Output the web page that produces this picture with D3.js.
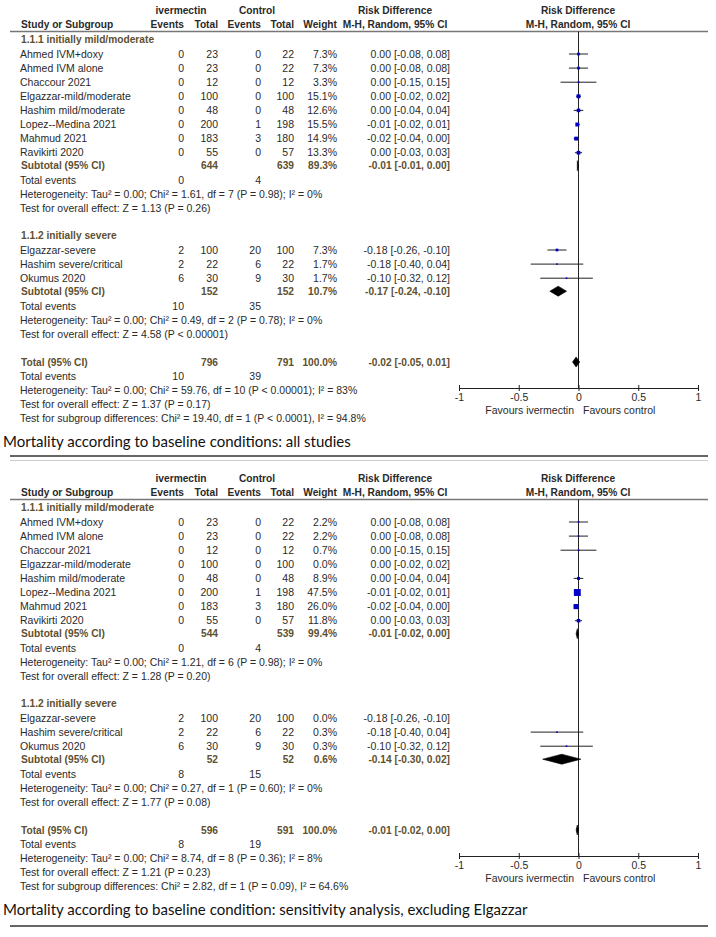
<!DOCTYPE html>
<html>
<head>
<meta charset="utf-8">
<script src="https://cdn.jsdelivr.net/npm/d3@7"></script>
<style>
  body { margin: 0; background: #fff; }
  svg text { font-family: "Liberation Sans", Arial, sans-serif; }
  .reg { font-size: 10.5px; fill: #2a2a2a; }
  .hdr { font-size: 10.2px; font-weight: bold; fill: #2a2a2a; }
  .sub { font-size: 10.2px; font-weight: bold; fill: #5e5030; }
  .caption { font-family: Lato, "Open Sans", sans-serif; font-size: 15px; fill: #111; }
</style>
</head>
<body>
<div id="chart"></div>
<script>
// Page size
var width  = 716;
var height = 937;

// 1.1.1 initially mild/moderate
var mildStudies   = ["Ahmed IVM+doxy", "Ahmed IVM alone", "Chaccour 2021", "Elgazzar-mild/moderate",
                     "Hashim mild/moderate", "Lopez--Medina 2021", "Mahmud 2021", "Ravikirti 2020"];
var mildIvmEvents = [0, 0, 0, 0, 0, 0, 0, 0];
var mildIvmTotal  = [23, 23, 12, 100, 48, 200, 183, 55];
var mildCtlEvents = [0, 0, 0, 0, 0, 1, 3, 0];
var mildCtlTotal  = [22, 22, 12, 100, 48, 198, 180, 57];
var mildRD        = [0.00, 0.00, 0.00, 0.00, 0.00, -0.01, -0.02, 0.00];
var mildLow       = [-0.08, -0.08, -0.15, -0.02, -0.04, -0.02, -0.04, -0.03];
var mildHigh      = [0.08, 0.08, 0.15, 0.02, 0.04, 0.01, 0.00, 0.03];
var mildWeightAll = [7.3, 7.3, 3.3, 15.1, 12.6, 15.5, 14.9, 13.3];
var mildWeightSens = [2.2, 2.2, 0.7, 0.0, 8.9, 47.5, 26.0, 11.8];

// 1.1.2 initially severe
var severeStudies   = ["Elgazzar-severe", "Hashim severe/critical", "Okumus 2020"];
var severeIvmEvents = [2, 2, 6];
var severeIvmTotal  = [100, 22, 30];
var severeCtlEvents = [20, 6, 9];
var severeCtlTotal  = [100, 22, 30];
var severeRD        = [-0.18, -0.18, -0.10];
var severeLow       = [-0.26, -0.40, -0.32];
var severeHigh      = [-0.10, 0.04, 0.12];
var severeWeightAll  = [7.3, 1.7, 1.7];
var severeWeightSens = [0.0, 0.3, 0.3];

// Pooled results: [ivm total, ctl total, weight, rd, low, high, ivm events, ctl events]
var pooledAll  = { mild: [644, 639, 89.3, -0.01, -0.01, 0.00, 0, 4],
                   severe: [152, 152, 10.7, -0.17, -0.24, -0.10, 10, 35],
                   total: [796, 791, 100.0, -0.02, -0.05, 0.01, 10, 39] };
var pooledSens = { mild: [544, 539, 99.4, -0.01, -0.02, 0.00, 0, 4],
                   severe: [52, 52, 0.6, -0.14, -0.30, 0.02, 8, 15],
                   total: [596, 591, 100.0, -0.01, -0.02, 0.00, 8, 19] };

var statsAll = [
  "Heterogeneity: Tau\u00b2 = 0.00; Chi\u00b2 = 1.61, df = 7 (P = 0.98); I\u00b2 = 0%",
  "Test for overall effect: Z = 1.13 (P = 0.26)",
  "Heterogeneity: Tau\u00b2 = 0.00; Chi\u00b2 = 0.49, df = 2 (P = 0.78); I\u00b2 = 0%",
  "Test for overall effect: Z = 4.58 (P < 0.00001)",
  "Heterogeneity: Tau\u00b2 = 0.00; Chi\u00b2 = 59.76, df = 10 (P < 0.00001); I\u00b2 = 83%",
  "Test for overall effect: Z = 1.37 (P = 0.17)",
  "Test for subgroup differences: Chi\u00b2 = 19.40, df = 1 (P < 0.0001), I\u00b2 = 94.8%"
];
var statsSens = [
  "Heterogeneity: Tau\u00b2 = 0.00; Chi\u00b2 = 1.21, df = 6 (P = 0.98); I\u00b2 = 0%",
  "Test for overall effect: Z = 1.28 (P = 0.20)",
  "Heterogeneity: Tau\u00b2 = 0.00; Chi\u00b2 = 0.27, df = 1 (P = 0.60); I\u00b2 = 0%",
  "Test for overall effect: Z = 1.77 (P = 0.08)",
  "Heterogeneity: Tau\u00b2 = 0.00; Chi\u00b2 = 8.74, df = 8 (P = 0.36); I\u00b2 = 8%",
  "Test for overall effect: Z = 1.21 (P = 0.23)",
  "Test for subgroup differences: Chi\u00b2 = 2.82, df = 1 (P = 0.09), I\u00b2 = 64.6%"
];

var captions = ["Mortality according to baseline conditions: all studies",
                "Mortality according to baseline condition: sensitivity analysis, excluding Elgazzar"];

var axisTicks = [-1, -0.5, 0, 0.5, 1];

var svg = d3.select("#chart").append("svg")
    .attr("width", width)
    .attr("height", height);

// Risk difference scale for the plot column
var x = d3.scaleLinear().domain([-1, 1]).range([459, 698]);
var f2 = d3.format(".2f");
var f1 = d3.format(".1f");

// Column right edges
var col = { ivmEv: 184, ivmTot: 218, ctlEv: 261, ctlTot: 294, weight: 337, rd: 450 };

function ciText(rd, lo, hi) {
    return f2(rd).replace("\u2212", "-") + " [" + f2(lo).replace("\u2212", "-") + ", " + f2(hi).replace("\u2212", "-") + "]";
}

function txt(g, cls, xx, yy, s, anchor) {
    return g.append("text")
        .attr("class", cls)
        .attr("x", xx)
        .attr("y", yy)
        .attr("dy", "0.35em")
        .attr("text-anchor", anchor || "start")
        .text(s);
}

function drawPanel(offset, weightsMild, weightsSevere, pooled, stats, caption) {
    var g = svg.append("g").attr("transform", "translate(0," + offset + ")");

    // Column headers
    txt(g, "hdr", 181, 10, "ivermectin", "middle");
    txt(g, "hdr", 257, 10, "Control", "middle");
    txt(g, "hdr", 395, 10, "Risk Difference", "middle");
    txt(g, "hdr", 578, 10, "Risk Difference", "middle");
    txt(g, "hdr", 21, 24, "Study or Subgroup");
    txt(g, "hdr", col.ivmEv, 24, "Events", "end");
    txt(g, "hdr", col.ivmTot, 24, "Total", "end");
    txt(g, "hdr", col.ctlEv, 24, "Events", "end");
    txt(g, "hdr", col.ctlTot, 24, "Total", "end");
    txt(g, "hdr", col.weight, 24, "Weight", "end");
    txt(g, "hdr", 395, 24, "M-H, Random, 95% CI", "middle");
    txt(g, "hdr", 578, 24, "M-H, Random, 95% CI", "middle");

    g.append("line")
        .attr("x1", 10).attr("x2", 708)
        .attr("y1", 31.5).attr("y2", 31.5)
        .attr("stroke", "#777").attr("stroke-width", 1.5);

    var axisY = 388;

    // Line of no effect
    g.append("line")
        .attr("x1", x(0)).attr("x2", x(0))
        .attr("y1", 31.5).attr("y2", axisY)
        .attr("stroke", "#222").attr("stroke-width", 1);

    function studies(y0, names, ie, it, ce, ct, w, rd, lo, hi) {
        var ys = names.map((d, i) => y0 + i * 14.1);
        names.forEach(function(name, i) {
            var y = ys[i];
            txt(g, "reg", 20, y, name);
            txt(g, "reg", col.ivmEv, y, ie[i], "end");
            txt(g, "reg", col.ivmTot, y, it[i], "end");
            txt(g, "reg", col.ctlEv, y, ce[i], "end");
            txt(g, "reg", col.ctlTot, y, ct[i], "end");
            txt(g, "reg", col.weight, y, f1(w[i]) + "%", "end");
            txt(g, "reg", col.rd, y, ciText(rd[i], lo[i], hi[i]), "end");
            if (w[i] > 0) {
                g.append("line")
                    .attr("x1", x(lo[i])).attr("x2", x(hi[i]))
                    .attr("y1", y).attr("y2", y)
                    .attr("stroke", "#222").attr("stroke-width", 1);
                var s = Math.max(1.6, Math.sqrt(w[i]));
                g.append("rect")
                    .attr("x", x(rd[i]) - s / 2).attr("y", y - s / 2)
                    .attr("width", s).attr("height", s)
                    .attr("fill", "#0000c8");
            }
        });
        return ys[ys.length - 1];
    }

    function subtotal(y, label, p) {
        txt(g, "sub", 21, y, label);
        txt(g, "sub", col.ivmTot, y, p[0], "end");
        txt(g, "sub", col.ctlTot, y, p[1], "end");
        txt(g, "sub", col.weight, y, f1(p[2]) + "%", "end");
        txt(g, "sub", col.rd, y, ciText(p[3], p[4], p[5]), "end");
        g.append("path")
            .attr("d", "M" + x(p[4]) + "," + y + "L" + x(p[3]) + "," + (y - 5) +
                       "L" + x(p[5]) + "," + y + "L" + x(p[3]) + "," + (y + 5) + "Z")
            .attr("fill", "#000")
            .attr("stroke", "#000")
            .attr("stroke-width", 0.6);
    }

    function events(y, p) {
        txt(g, "reg", 20, y, "Total events");
        txt(g, "reg", col.ivmEv, y, p[6], "end");
        txt(g, "reg", col.ctlEv, y, p[7], "end");
    }

    // Subgroup 1
    txt(g, "sub", 21, 39, "1.1.1 initially mild/moderate");
    var y = studies(54, mildStudies, mildIvmEvents, mildIvmTotal, mildCtlEvents, mildCtlTotal,
                    weightsMild, mildRD, mildLow, mildHigh);
    subtotal(y + 13, "Subtotal (95% CI)", pooled.mild);
    events(y + 28, pooled.mild);
    txt(g, "reg", 20, y + 42, stats[0]);
    txt(g, "reg", 20, y + 56, stats[1]);

    // Subgroup 2
    txt(g, "sub", 21, 235, "1.1.2 initially severe");
    y = studies(250, severeStudies, severeIvmEvents, severeIvmTotal, severeCtlEvents, severeCtlTotal,
                weightsSevere, severeRD, severeLow, severeHigh);
    subtotal(y + 13, "Subtotal (95% CI)", pooled.severe);
    events(y + 28, pooled.severe);
    txt(g, "reg", 20, y + 42, stats[2]);
    txt(g, "reg", 20, y + 56, stats[3]);

    // Overall
    subtotal(362, "Total (95% CI)", pooled.total);
    events(376, pooled.total);
    txt(g, "reg", 20, 390, stats[4]);
    txt(g, "reg", 20, 404, stats[5]);
    txt(g, "reg", 20, 418, stats[6]);

    // Axis
    var ax = g.append("g")
        .attr("transform", "translate(0," + axisY + ")")
        .call(d3.axisBottom(x).tickValues(axisTicks).tickSize(3).tickSizeOuter(0)
              .tickFormat(d => String(d)));
    ax.select(".domain").attr("stroke", "#222");
    ax.selectAll(".tick line").attr("stroke", "#222").attr("y1", -3);
    ax.selectAll(".tick text")
        .attr("fill", "#2a2a2a")
        .attr("font-size", "10.5px")
        .attr("font-family", "Liberation Sans, Arial, sans-serif");

    txt(g, "reg", 574, 410, "Favours ivermectin", "end");
    txt(g, "reg", 583, 410, "Favours control");

    g.append("text")
        .attr("class", "caption")
        .attr("x", 3)
        .attr("y", 447)
        .text(caption);
}

drawPanel(0, mildWeightAll, severeWeightAll, pooledAll, statsAll, captions[0]);
drawPanel(468, mildWeightSens, severeWeightSens, pooledSens, statsSens, captions[1]);

// Separator rules under the captions
svg.append("line")
    .attr("x1", 10).attr("x2", 708)
    .attr("y1", 456).attr("y2", 456)
    .attr("stroke", "#333").attr("stroke-width", 1.5);
svg.append("line")
    .attr("x1", 10).attr("x2", 708)
    .attr("y1", 460.5).attr("y2", 460.5)
    .attr("stroke", "#ccc").attr("stroke-width", 1);
svg.append("line")
    .attr("x1", 10).attr("x2", 708)
    .attr("y1", 926).attr("y2", 926)
    .attr("stroke", "#333").attr("stroke-width", 1.5);
</script>
</body>
</html>
